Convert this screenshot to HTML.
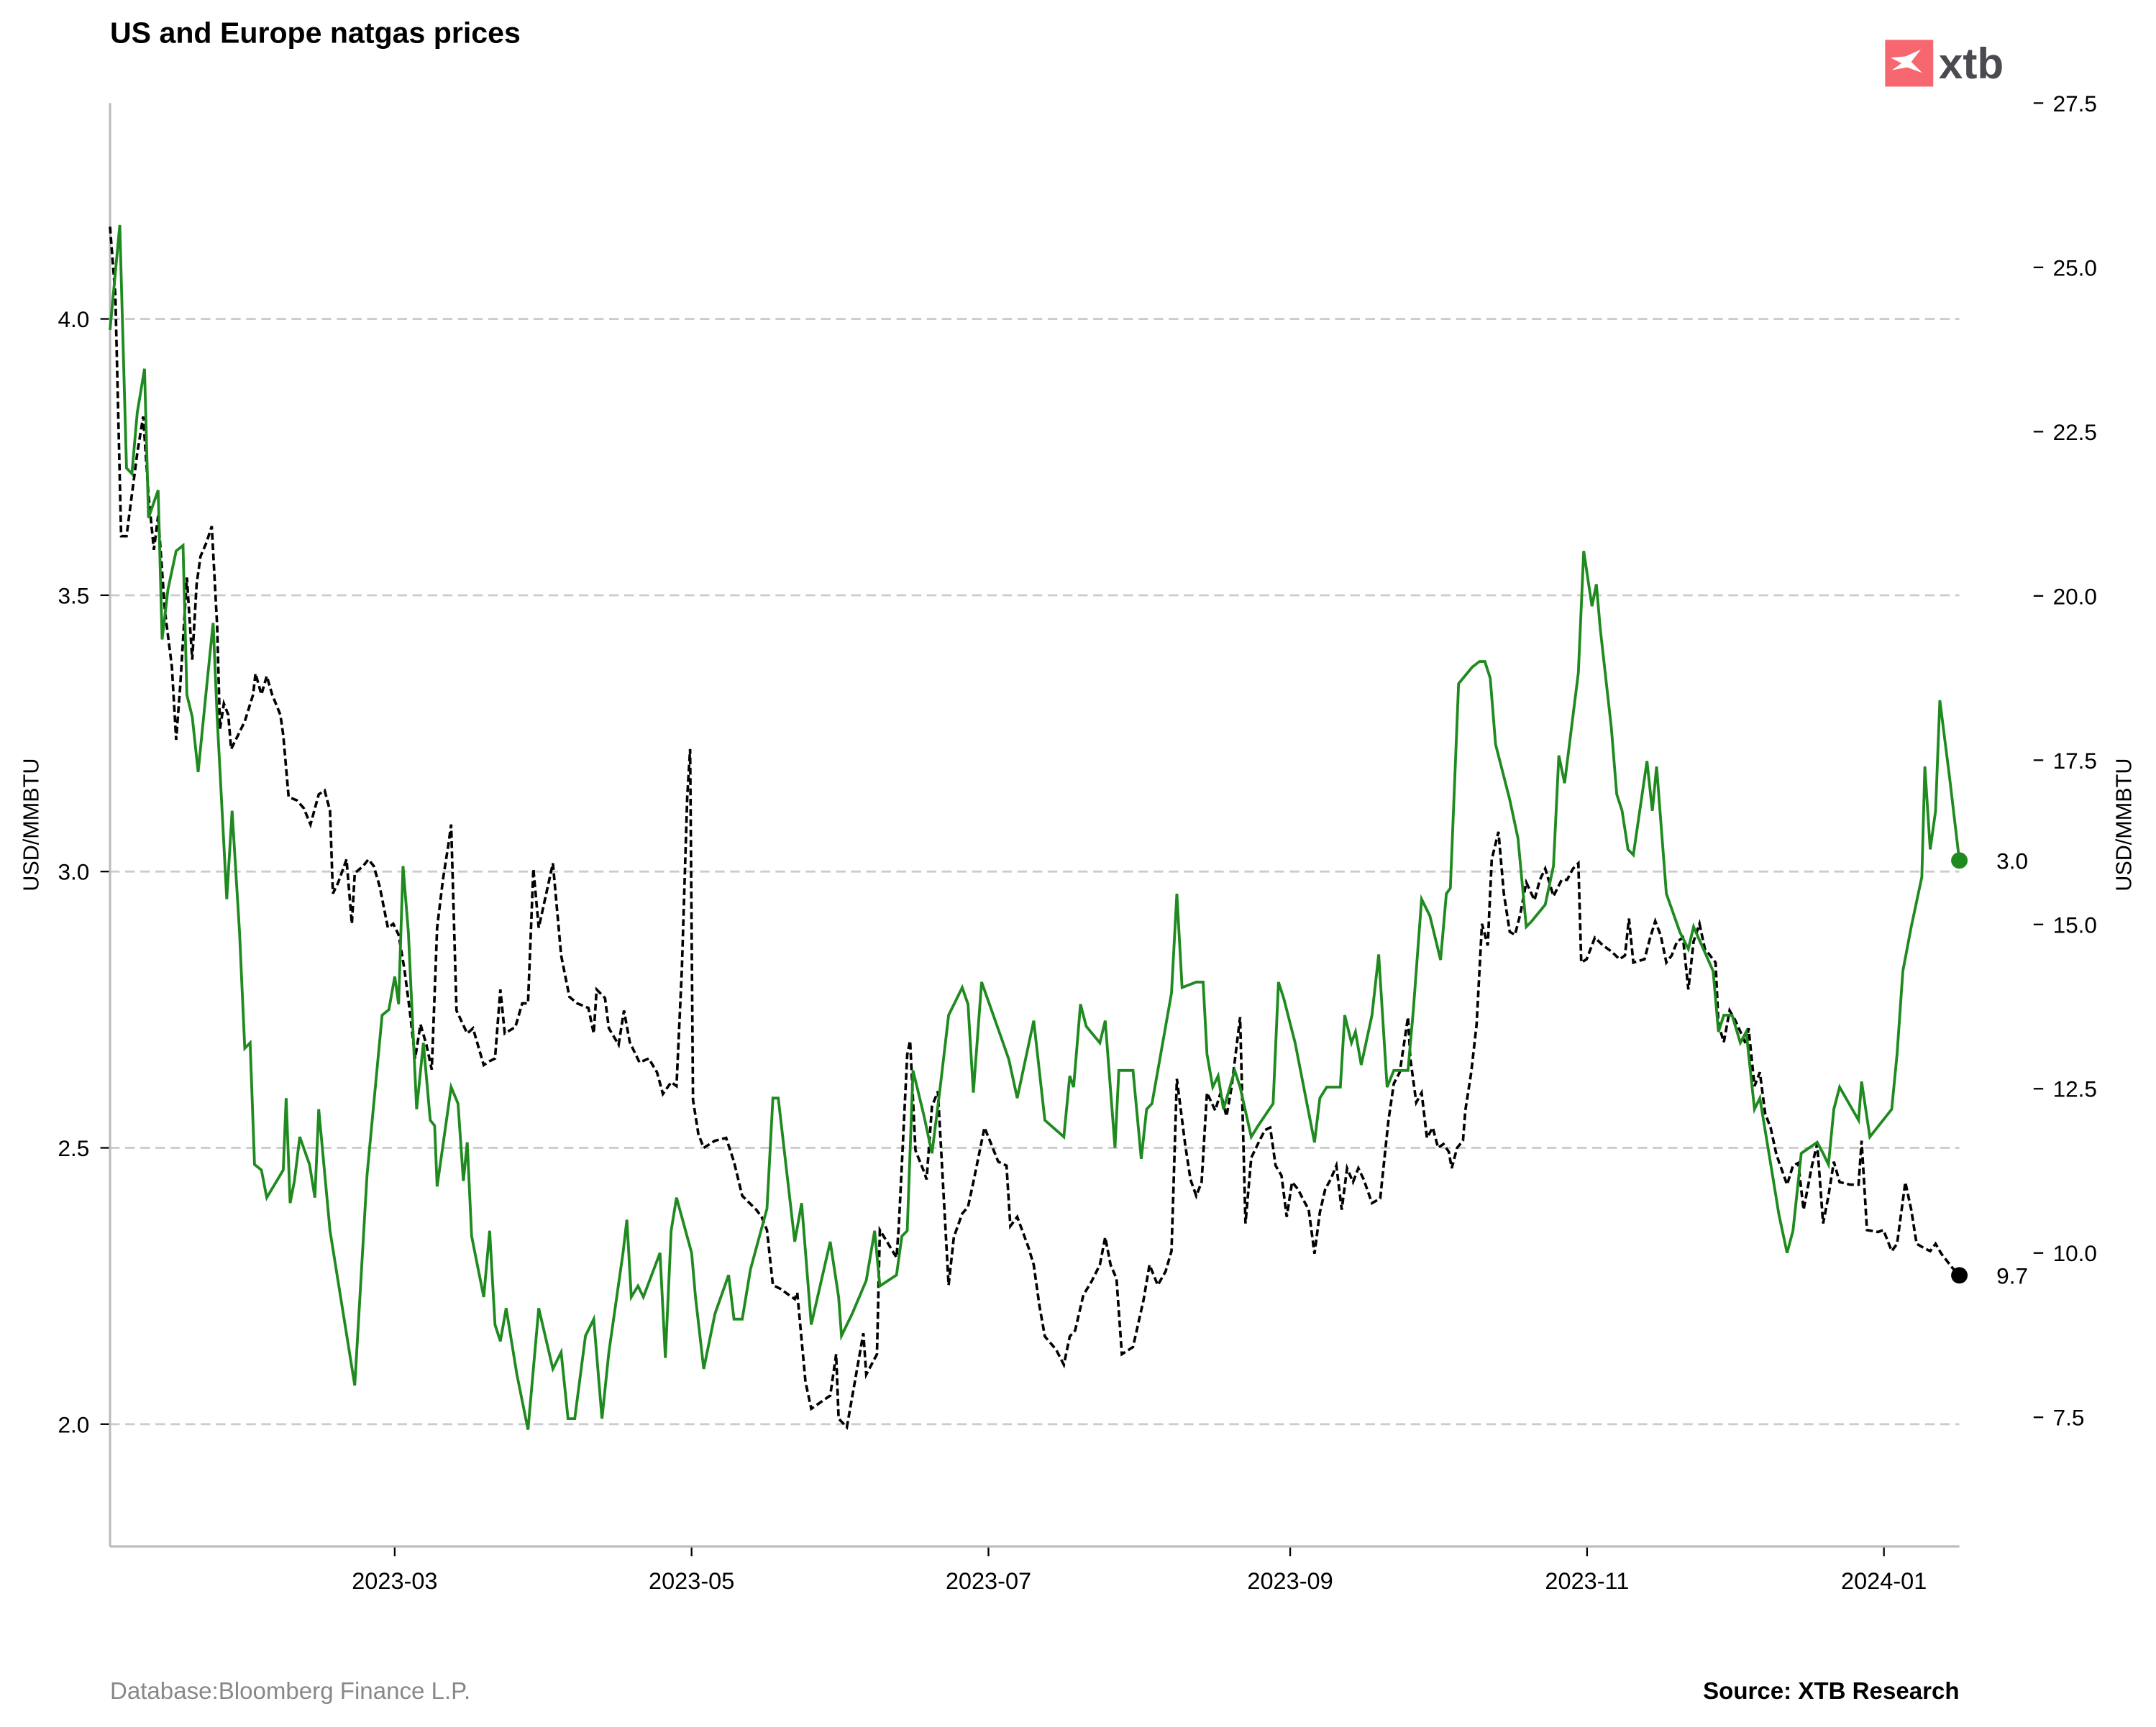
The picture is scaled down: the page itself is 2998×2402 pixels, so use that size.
<!DOCTYPE html>
<html><head><meta charset="utf-8"><style>
html,body{margin:0;padding:0;background:#fff}
svg{display:block;font-family:"Liberation Sans",sans-serif}
</style></head><body>
<svg id="chart" width="2998" height="2402" viewBox="0 0 1568 1256.3" xmlns="http://www.w3.org/2000/svg">
<text x="80" y="31" font-size="21.5" font-weight="bold" fill="#000">US and Europe natgas prices</text>
<g>
<rect x="1371" y="29" width="35" height="34" fill="#f76770"/>
<path d="M1375 42 L1386 41 L1397 36 L1390 45 L1398 53 L1387 49 L1376 51 L1383 46 Z" fill="#fff"/>
<text x="1410" y="57" font-size="31.5" font-weight="bold" fill="#4a4a50">xtb</text>
</g>
<g id="grid"></g>
<g id="axes"></g>
<g id="series"></g>
<text x="80" y="1236" font-size="17.3" fill="#888">Database:Bloomberg Finance L.P.</text>
<text x="1425" y="1236" font-size="17.3" font-weight="bold" text-anchor="end" fill="#000">Source: XTB Research</text>
</svg>
<script>
const xTickDays=[58.5,119.5,180.5,242.5,303.5,364.5];
const xTickLabels=["2023-03","2023-05","2023-07","2023-09","2023-11","2024-01"];
const leftTicks=[2.0,2.5,3.0,3.5,4.0];
const rightTicks=[7.5,10.0,12.5,15.0,17.5,20.0,22.5,25.0,27.5];
const usDays=[0,2,3.4,4.5,5.6,7.1,7.9,9.9,10.7,11.9,13.6,15,15.8,16.9,18.1,19.8,21.2,22,24,25.1,26.6,27.7,28.8,29.7,31.1,32.2,35.6,36.2,37,37.9,39,41,42.1,42.9,45.2,50.3,52.8,55.9,57.3,58.5,59.3,60.2,61.3,63,64.4,65.8,66.7,67.2,70.1,71.5,72.6,73.4,74.3,76.8,78,79.1,80.2,81.4,83.6,85.9,88.1,91,92.7,94.1,95.5,97.7,99.4,101.1,102.5,105.4,106.2,107.1,108.5,109.6,113,114.1,115.3,116.4,119.5,120.3,122,124.3,127.1,128.2,129.9,131.6,135,136.2,137.3,140.7,142.1,144.1,148,149.7,150.3,152.5,155.4,157.1,158.2,161.6,162.7,163.8,165,167.2,168.9,170.6,172.3,175.1,176.3,177.4,179.1,183.1,184.7,186.4,189.8,192.1,196,197.2,198,199.4,200.6,203.4,204.5,206.5,207.3,210.2,211.9,213,214.1,218.1,219.2,220.3,223.2,224.6,225.4,226.6,227.7,228.8,231.1,232.2,234.5,235.9,239,240.1,241.2,243.5,247.5,248.6,250,252.8,253.7,255.1,255.9,257.1,259.3,260.7,262.4,263.8,266.7,267.8,269.5,271.2,273.4,274.6,275.4,277.1,279.9,281.4,282.5,283.6,284.7,287.6,289.3,291,292.1,294.9,296.6,297.7,298.9,301.7,302.8,304,304.5,305.4,306.2,308.5,309.6,310.7,311.9,313,315.8,316.9,317.8,319.8,322.6,324.3,325.4,329.4,330.5,331.6,333.3,335,336.2,337.9,339,341.8,342.9,344.6,345.8,347.5,350.8,352,353.1,354.2,355.4,359.3,359.9,361.6,366.1,367.2,368.4,370.1,372.3,372.9,374,375.1,376,378,380];
const usValues=[3.98,4.17,3.73,3.72,3.83,3.91,3.64,3.69,3.42,3.51,3.58,3.59,3.32,3.28,3.18,3.33,3.45,3.28,2.95,3.11,2.89,2.68,2.69,2.47,2.46,2.41,2.46,2.59,2.40,2.44,2.52,2.47,2.41,2.57,2.35,2.07,2.45,2.74,2.75,2.81,2.76,3.01,2.89,2.57,2.69,2.55,2.54,2.43,2.61,2.58,2.44,2.51,2.34,2.23,2.35,2.18,2.15,2.21,2.09,1.99,2.21,2.10,2.13,2.01,2.01,2.16,2.19,2.01,2.13,2.31,2.37,2.23,2.25,2.23,2.31,2.12,2.35,2.41,2.31,2.23,2.10,2.20,2.27,2.19,2.19,2.28,2.39,2.59,2.59,2.33,2.40,2.18,2.33,2.23,2.16,2.20,2.26,2.35,2.25,2.27,2.34,2.35,2.64,2.56,2.49,2.61,2.74,2.79,2.76,2.60,2.80,2.70,2.66,2.59,2.73,2.55,2.52,2.63,2.61,2.76,2.72,2.69,2.73,2.50,2.64,2.64,2.48,2.57,2.58,2.78,2.96,2.79,2.80,2.80,2.67,2.61,2.63,2.57,2.64,2.61,2.52,2.54,2.58,2.80,2.77,2.69,2.51,2.59,2.61,2.61,2.74,2.69,2.71,2.65,2.74,2.85,2.61,2.64,2.64,2.75,2.95,2.92,2.84,2.96,2.97,3.34,3.37,3.38,3.38,3.35,3.23,3.13,3.06,2.90,2.91,2.94,3.01,3.21,3.16,3.36,3.58,3.51,3.48,3.52,3.44,3.26,3.14,3.11,3.04,3.03,3.20,3.11,3.19,2.96,2.89,2.86,2.90,2.82,2.71,2.74,2.74,2.69,2.71,2.57,2.59,2.44,2.38,2.31,2.35,2.49,2.51,2.49,2.47,2.57,2.61,2.55,2.62,2.52,2.57,2.67,2.82,2.90,2.99,3.19,3.04,3.11,3.31,3.17,3.02];
const euDays=[0,1.1,2.3,3.4,5.6,6.8,7.9,9,9.9,11.3,12.7,13.6,14.4,15.8,16.9,17.8,18.6,19.8,20.9,22,22.6,23.4,24.3,24.9,26.3,27.7,29.4,29.9,31.1,32.2,33.3,35,35.6,36.7,38.4,39.8,41.2,42.9,44.1,45.2,45.8,46.9,48.6,49.7,50.3,52,53.1,54.2,55.4,57.1,58.2,59.3,60.5,61.6,62.7,63.8,65,66.1,67.2,68.4,69.5,70.1,71.2,73.4,74.6,76.8,78,79.1,80.2,81.1,83.3,84.7,85.9,87,88.1,91,92.7,94.4,96,98.3,99.4,100,101.7,102.5,104.5,105.6,106.8,108.8,110.7,112.4,113.6,115.3,116.4,117.5,118.6,119.2,119.8,120.9,122,124.3,126.6,128.2,129.9,132.8,133.9,135,136.2,137.9,139.5,140.7,141.2,142.9,144.1,148,149.2,149.7,151.4,154.8,155.4,157.6,158.2,159.9,161.6,162.1,163.8,164.4,165.5,167.2,167.8,168.9,170.1,172.3,173.4,175.1,176.3,177.4,179.7,180.8,182.5,184.2,185,186.4,188.7,189.8,191,192.1,194.4,196,197.2,198.3,200,201.7,203.4,204.5,205.6,206.8,207.9,210.2,212.4,213.6,215.3,216.9,218.1,219.2,220.9,222,223.2,224.3,225.4,227.1,228.2,229.4,230.5,232.2,233.3,234.5,236.2,237.3,238.4,239.5,240.7,241.8,242.9,244.1,245.2,246.3,247.5,248.6,249.7,250.8,252,253.1,254.2,255.4,256.5,257.6,259.3,261,262.7,263.8,265,266.7,267.2,268.4,269.5,270.6,271.8,272.9,274,275.1,275.7,276.8,278,278.5,279.7,280.8,281.9,283.1,283.9,285.3,286.4,287.6,288.7,289.8,291,292.7,293.8,294.9,296.6,298.3,299.4,300.6,301.7,302.3,303.4,305.1,306.8,308.5,310.2,311.3,312.1,313,315.3,316.4,317.5,318.6,319.8,320.9,322,323.2,324.3,325.4,326.6,327.7,329.9,330.5,331.6,332.8,333.9,336.2,336.7,337.9,339,340.1,341.2,342.4,344.6,345.8,346.9,348,349.7,350.8,352,353.1,354.2,355.4,357.6,359.3,359.9,361,363.3,364.4,366.1,367.2,368.9,370.1,371.2,372.9,374,375.1,376.3,378.5,380];
const euValues=[25.62,24.57,20.91,20.91,22.17,22.73,21.54,20.70,21.22,19.76,18.92,17.81,18.61,20.28,19.03,20.18,20.60,20.81,21.06,19.55,17.98,18.36,18.19,17.67,17.88,18.09,18.50,18.82,18.50,18.78,18.50,18.19,17.88,16.94,16.89,16.77,16.52,16.98,17.04,16.73,15.47,15.64,15.99,15.01,15.78,15.89,15.99,15.89,15.58,14.95,15.01,14.84,14.32,13.69,12.96,13.48,13.17,12.79,14.95,15.68,16.20,16.52,13.69,13.34,13.42,12.86,12.92,12.96,14.01,13.34,13.44,13.80,13.80,15.85,14.95,15.93,14.53,13.90,13.80,13.73,13.34,14.01,13.88,13.42,13.17,13.69,13.21,12.90,12.96,12.75,12.42,12.60,12.54,14.32,16.94,17.67,12.33,11.81,11.60,11.71,11.75,11.39,10.87,10.66,10.55,10.35,9.51,9.45,9.36,9.30,9.40,8.04,7.63,7.83,8.46,7.48,7.35,8.78,8.15,8.46,10.35,10.14,9.93,10.41,13.02,13.23,11.56,11.25,11.12,12.23,12.46,9.51,10.24,10.60,10.70,11.08,11.91,11.71,11.39,11.33,10.41,10.55,10.09,9.82,9.19,8.73,8.53,8.30,8.73,8.82,9.36,9.57,9.82,10.24,9.82,9.61,8.46,8.57,9.30,9.82,9.51,9.72,10.03,12.65,11.66,11.12,10.87,11.08,12.44,12.17,12.44,12.08,12.54,13.59,10.45,11.45,11.71,11.87,11.91,11.33,11.18,10.55,11.08,10.97,10.81,10.66,9.99,10.62,10.97,11.12,11.33,10.66,11.29,11.08,11.29,11.12,10.76,10.83,12.02,12.58,12.75,13.59,12.96,12.29,12.44,11.75,11.91,11.60,11.66,11.54,11.29,11.60,11.71,12.17,12.75,13.48,15.01,14.68,15.99,16.41,15.47,14.89,14.84,15.16,15.64,15.37,15.68,15.85,15.43,15.68,15.68,15.85,15.93,14.42,14.47,14.80,14.68,14.59,14.47,14.53,15.09,14.42,14.47,14.78,15.05,14.84,14.42,14.53,14.74,14.80,14.01,14.74,15.01,14.63,14.42,13.48,13.21,13.69,13.55,13.17,13.42,12.54,12.75,12.12,11.91,11.50,11.04,11.33,11.37,10.66,11.33,11.66,10.45,10.87,11.39,11.08,11.04,11.04,11.71,10.35,10.32,10.35,10.03,10.14,11.08,10.66,10.14,10.07,10.03,10.14,9.99,9.78,9.66];

const NS="http://www.w3.org/2000/svg";
const L=80,R=1425,T=75,B=1125;
const pxPerDay=(R-L)/380;
const xS=d=>L+d*pxPerDay;
const yL=v=>232+(4-v)*402;
const yR=v=>75+(27.5-v)*47.8;
function mk(tag,attrs,parent){const e=document.createElementNS(NS,tag);for(const k in attrs)e.setAttribute(k,attrs[k]);parent.appendChild(e);return e;}
const grid=document.getElementById('grid'),axes=document.getElementById('axes'),ser=document.getElementById('series');

leftTicks.forEach(v=>{
  const y=yL(v);
  const g=mk('line',{x1:L,x2:R,y1:y,y2:y,stroke:'#cccccc','stroke-width':1.5,'stroke-dasharray':'7 4'},grid);
  
  
  mk('line',{x1:L-7,x2:L,y1:y,y2:y,stroke:'#000','stroke-width':1.2},axes);
  const t=mk('text',{x:L-15,y:y+6,'font-size':16.5,'text-anchor':'end',fill:'#000'},axes);
  t.textContent=v.toFixed(1);
  
  
});
rightTicks.forEach(v=>{
  const y=yR(v);
  mk('line',{x1:1479,x2:1486,y1:y,y2:y,stroke:'#000','stroke-width':1.2},axes);
  const t=mk('text',{x:1493,y:y+6,'font-size':16.5,fill:'#000'},axes);
  t.textContent=v.toFixed(1);
  
  
});
xTickDays.forEach((d,i)=>{
  const x=xS(d);
  mk('line',{x1:x,x2:x,y1:B,y2:B+7,stroke:'#000','stroke-width':1.2},axes);
  const t=mk('text',{x:x,y:B+31,'font-size':17,'text-anchor':'middle',fill:'#000'},axes);
  t.textContent=xTickLabels[i];
  
  
});
const ls=mk('line',{x1:L,x2:L,y1:T,y2:B,stroke:'#bbb','stroke-width':1.6},axes);


const bs=mk('line',{x1:L,x2:R,y1:B,y2:B,stroke:'#bbb','stroke-width':1.6},axes);


const yt1=mk('text',{x:0,y:0,'font-size':16,'text-anchor':'middle',transform:'translate(28,600) rotate(-90)'},axes);
yt1.textContent='USD/MMBTU';


const yt2=mk('text',{x:0,y:0,'font-size':16,'text-anchor':'middle',transform:'translate(1550,600) rotate(-90)'},axes);
yt2.textContent='USD/MMBTU';



const euPath=mk('path',{d:euDays.map((d,i)=>(i?'L':'M')+xS(d).toFixed(1)+' '+yR(euValues[i]).toFixed(1)).join(' '),fill:'none',stroke:'#000','stroke-width':1.9,'stroke-dasharray':'5 2.5'},ser);


const usPath=mk('path',{d:usDays.map((d,i)=>(i?'L':'M')+xS(d).toFixed(1)+' '+yL(usValues[i]).toFixed(1)).join(' '),fill:'none',stroke:'#1f8a1f','stroke-width':2},ser);



const ul=usValues.length-1,el=euValues.length-1;
const ud=mk('circle',{cx:xS(usDays[ul]),cy:yL(usValues[ul]),r:6,fill:'#1f8a1f'},ser);


const ut=mk('text',{x:1452,y:yL(usValues[ul])+6,'font-size':16.5,fill:'#000'},ser);
ut.textContent=usValues[ul].toFixed(1);


const ed=mk('circle',{cx:xS(euDays[el]),cy:yR(euValues[el]),r:6,fill:'#000'},ser);


const et=mk('text',{x:1452,y:yR(euValues[el])+6,'font-size':16.5,fill:'#000'},ser);
et.textContent=euValues[el].toFixed(1);


</script>
</body></html>
